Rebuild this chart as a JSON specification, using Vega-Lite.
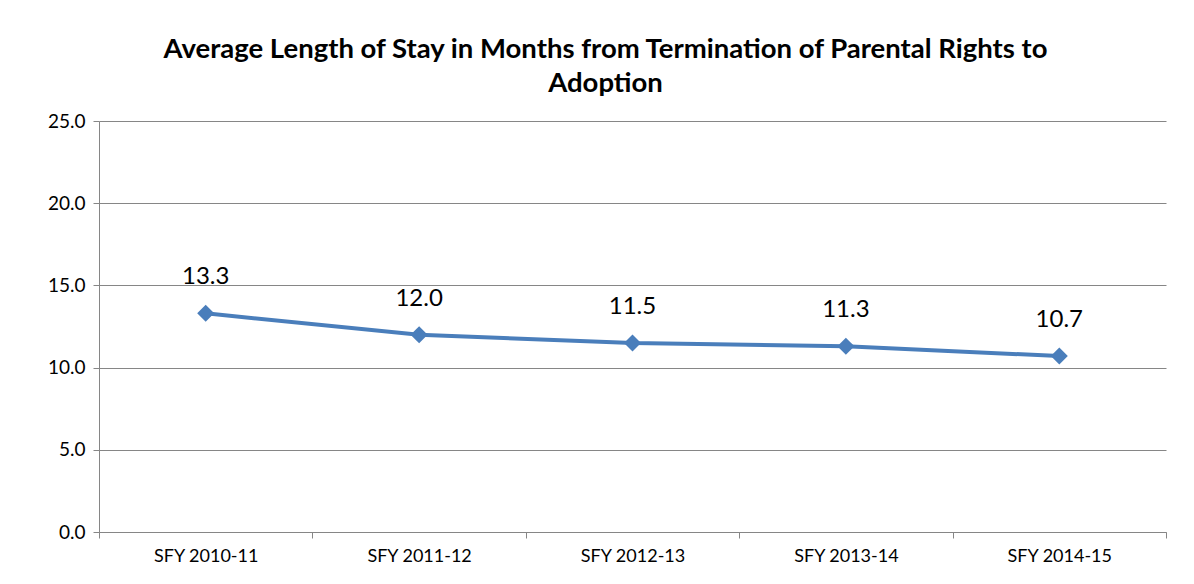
{
  "$schema": "https://vega.github.io/schema/vega-lite/v6.json",
  "autosize": {"type": "none"},
  "width": 1067,
  "height": 411,
  "padding": {"left": 99, "top": 121, "right": 28, "bottom": 52},
  "background": "white",
  "title": {
    "text": ["Average Length of Stay in Months from Termination of Parental Rights to", "Adoption"],
    "font": "Lato",
    "fontSize": 27.5,
    "fontWeight": "bold",
    "color": "#000000",
    "anchor": "middle",
    "dx": -27,
    "offset": 15,
    "lineHeight": 34
  },
  "data": {
    "values": [
      {"year": "SFY 2010-11", "months": 13.3},
      {"year": "SFY 2011-12", "months": 12.0},
      {"year": "SFY 2012-13", "months": 11.5},
      {"year": "SFY 2013-14", "months": 11.3},
      {"year": "SFY 2014-15", "months": 10.7}
    ]
  },
  "encoding": {
    "x": {
      "field": "year",
      "type": "ordinal",
      "sort": null,
      "title": null,
      "scale": {"paddingInner": 0, "paddingOuter": 0},
      "axis": {
        "labelAngle": 0,
        "labelFont": "Lato",
        "labelFontSize": 18,
        "labelColor": "#000000",
        "labelPadding": 9,
        "tickBand": "extent",
        "tickSize": 6,
        "tickColor": "#868686",
        "domainColor": "#868686",
        "grid": false
      }
    },
    "y": {
      "field": "months",
      "type": "quantitative",
      "title": null,
      "scale": {"domain": [0, 25]},
      "axis": {
        "values": [0, 5, 10, 15, 20, 25],
        "format": ".1f",
        "labelFont": "Lato",
        "labelFontSize": 19,
        "labelColor": "#000000",
        "labelPadding": 8,
        "tickSize": 6,
        "tickColor": "#868686",
        "domainColor": "#868686",
        "grid": true,
        "gridColor": "#868686",
        "gridOpacity": 1
      }
    }
  },
  "layer": [
    {
      "mark": {"type": "line", "color": "#4a7ebb", "strokeWidth": 4}
    },
    {
      "mark": {"type": "point", "shape": "diamond", "filled": true, "color": "#4a7ebb", "opacity": 1, "size": 290}
    },
    {
      "mark": {"type": "text", "font": "Lato", "fontSize": 24, "color": "#000000", "dy": -36},
      "encoding": {"text": {"field": "months", "type": "quantitative", "format": ".1f"}}
    }
  ],
  "config": {"view": {"stroke": null}}
}
